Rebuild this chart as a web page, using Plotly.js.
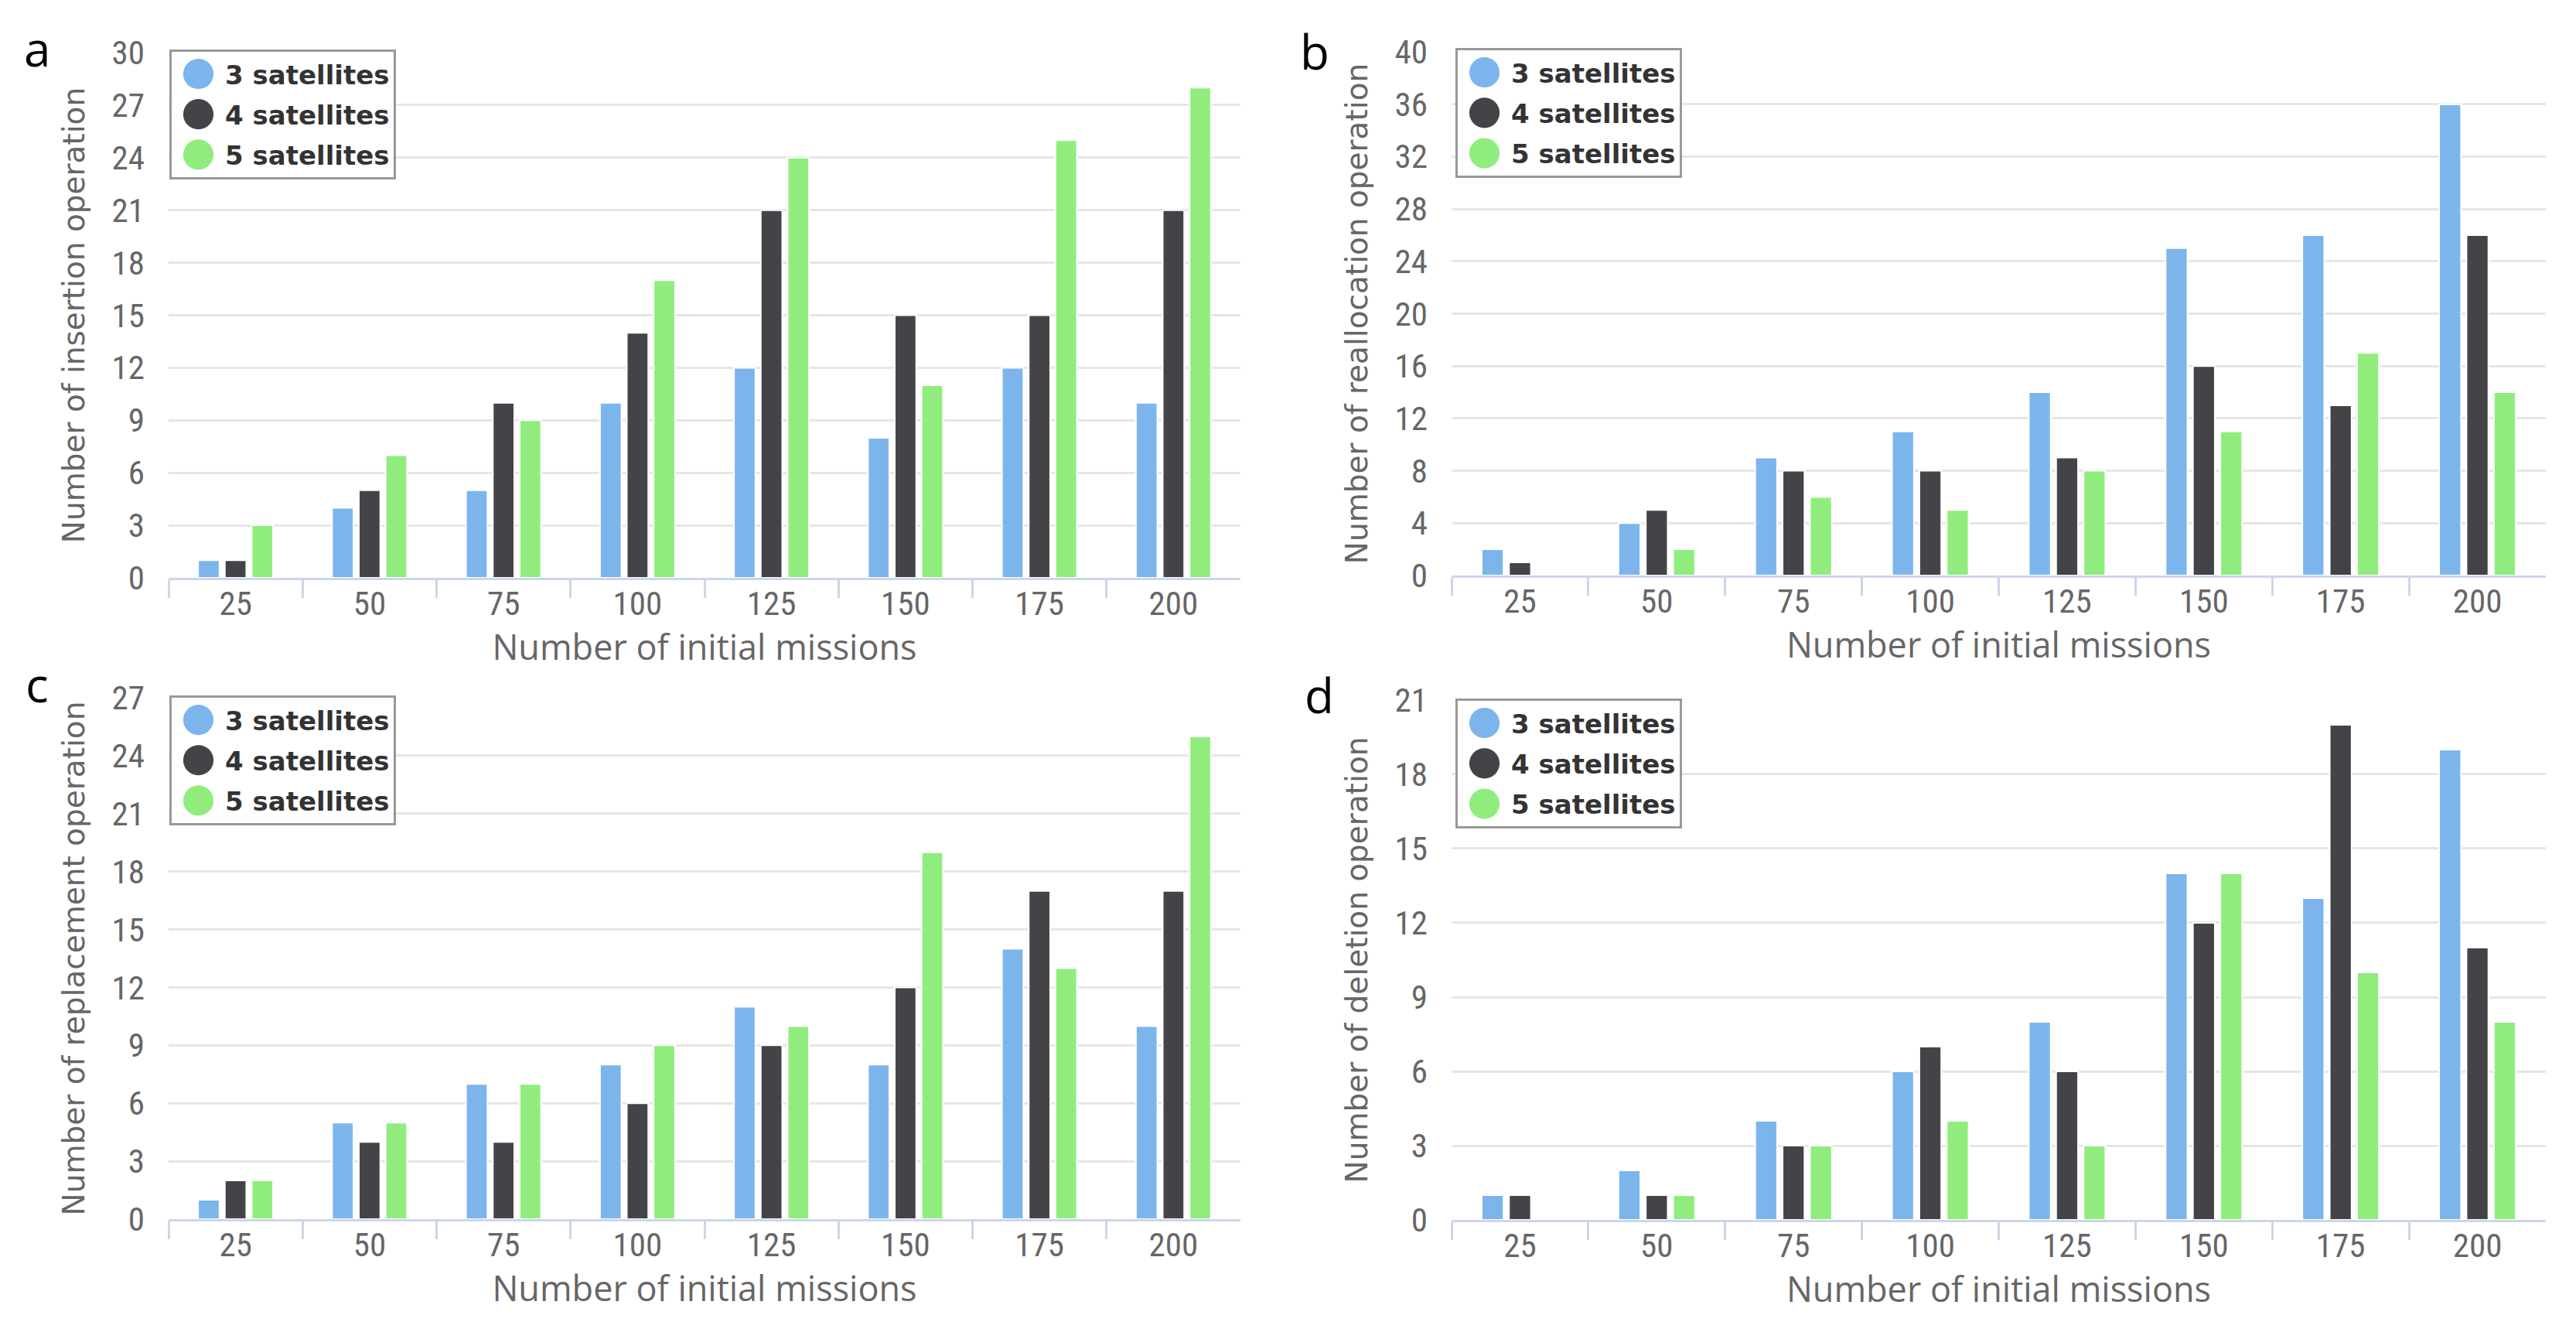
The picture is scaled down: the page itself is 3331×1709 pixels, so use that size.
<!DOCTYPE html>
<html>
<head>
<meta charset="utf-8">
<script src="https://cdn.plot.ly/plotly-3.0.1.min.js"></script>
<style>html,body{margin:0;padding:0;background:#fff;}#chart{width:3331px;height:1709px;}</style>
</head>
<body>
<div id="chart"></div>
<script>
// ---------- data ----------
const missions = ['25', '50', '75', '100', '125', '150', '175', '200'];
const seriesNames = ['3 satellites', '4 satellites', '5 satellites'];
const seriesColors = ['#7cb5ec', '#434348', '#90ed7d'];

// a: insertion
const insertion3 = [1, 4, 5, 10, 12, 8, 12, 10];
const insertion4 = [1, 5, 10, 14, 21, 15, 15, 21];
const insertion5 = [3, 7, 9, 17, 24, 11, 25, 28];
// b: reallocation
const realloc3 = [2, 4, 9, 11, 14, 25, 26, 36];
const realloc4 = [1, 5, 8, 8, 9, 16, 13, 26];
const realloc5 = [0, 2, 6, 5, 8, 11, 17, 14];
// c: replacement
const replace3 = [1, 5, 7, 8, 11, 8, 14, 10];
const replace4 = [2, 4, 4, 6, 9, 12, 17, 17];
const replace5 = [2, 5, 7, 9, 10, 19, 13, 25];
// d: deletion
const delete3 = [1, 2, 4, 6, 8, 14, 13, 19];
const delete4 = [1, 1, 3, 7, 6, 12, 20, 11];
const delete5 = [0, 1, 3, 4, 3, 14, 10, 8];

const panelLetters = ['a', 'b', 'c', 'd'];
const yTitles = ['Number of insertion operation', 'Number of reallocation operation',
                 'Number of replacement operation', 'Number of deletion operation'];
const xTitle = 'Number of initial missions';
const yMax = [30, 40, 27, 21];
const yStep = [3, 4, 3, 3];

const panelData = [
  [insertion3, insertion4, insertion5],
  [realloc3, realloc4, realloc5],
  [replace3, replace4, replace5],
  [delete3, delete4, delete5]
];

// ---------- layout geometry (paper fractions) ----------
const xDomains = [[0.06545, 0.48154], [0.5635, 0.98829], [0.06545, 0.48154], [0.5635, 0.98829]];
const yDomains = [[0.5629, 0.9602], [0.5647, 0.9608], [0.0778, 0.4722], [0.0772, 0.4705]];
const legendPos = [[0.06575, 0.9626], [0.5650, 0.9637], [0.06575, 0.4740], [0.5650, 0.4716]];
const letterPos = [[0.0144, 0.964], [0.5104, 0.9612], [0.0144, 0.483], [0.5122, 0.4745]];

const tickFont = {family: 'Liberation Sans Narrow, Roboto Condensed, Roboto, sans-serif', size: 43, color: '#666666'};

const traces = [];
const layout = {
  width: 3331, height: 1709,
  margin: {l: 0, r: 0, t: 0, b: 0},
  paper_bgcolor: '#ffffff', plot_bgcolor: '#ffffff',
  barmode: 'group', bargap: 0.4, bargroupgap: 0.2,
  showlegend: true,
  annotations: [],
  font: {family: 'Open Sans, sans-serif', color: '#666666'}
};

for (let p = 0; p < 4; p++) {
  const sfx = p === 0 ? '' : String(p + 1);
  const xa = 'x' + sfx, ya = 'y' + sfx;
  const legName = 'legend' + sfx;
  for (let s = 0; s < 3; s++) {
    traces.push({
      type: 'bar', x: missions, y: panelData[p][s], name: seriesNames[s],
      xaxis: xa, yaxis: ya, showlegend: false,
      marker: {color: seriesColors[s], line: {color: '#ffffff', width: 2}},
      hoverinfo: 'x+y+name'
    });
  }
  for (let s = 0; s < 3; s++) {
    traces.push({
      type: 'scatter', mode: 'markers', x: [null], y: [null], name: seriesNames[s],
      xaxis: xa, yaxis: ya, legend: legName, legendgroup: 'g' + p + s, showlegend: true,
      marker: {color: seriesColors[s], size: 16}, hoverinfo: 'skip'
    });
  }
  layout['xaxis' + sfx] = {
    domain: xDomains[p], anchor: ya, type: 'category',
    categoryorder: 'array', categoryarray: missions, range: [-0.5, 7.5],
    tickson: 'boundaries', ticks: 'outside', ticklen: 23, tickwidth: 3, tickcolor: '#ccd6eb',
    showline: true, linecolor: '#ccd6eb', linewidth: 3, showgrid: false, zeroline: false,
    tickfont: tickFont, ticklabelstandoff: -7, fixedrange: true,
    title: {text: xTitle, font: {family: 'Open Sans, sans-serif', size: 45, color: '#666666'}, standoff: 0}
  };
  layout['yaxis' + sfx] = {
    domain: yDomains[p], anchor: xa, range: [0, yMax[p]], dtick: yStep[p], tick0: 0,
    showgrid: true, gridcolor: '#e6e6e6', gridwidth: 3, zeroline: false, showline: false,
    ticks: '', tickfont: tickFont, ticklabelstandoff: 30, fixedrange: true,
    title: {text: yTitles[p], font: {family: 'DejaVu Sans, Verdana, sans-serif', size: 39, color: '#666666'}, standoff: 22}
  };
  layout[legName] = {
    x: legendPos[p][0], y: legendPos[p][1], xanchor: 'left', yanchor: 'top',
    bgcolor: '#ffffff', bordercolor: '#999999', borderwidth: 3,
    font: {family: 'DejaVu Sans, Verdana, sans-serif', size: 34, color: '#333333', weight: 'bold'},
    itemwidth: 59, traceorder: 'grouped', tracegroupgap: 5, itemclick: false, itemdoubleclick: false
  };
  layout.annotations.push({
    xref: 'paper', yref: 'paper', x: letterPos[p][0], y: letterPos[p][1],
    xanchor: 'center', yanchor: 'middle', showarrow: false, text: panelLetters[p],
    font: {family: 'Open Sans, sans-serif', size: 62, color: '#000000'}
  });
}

Plotly.newPlot('chart', traces, layout, {staticPlot: true, displayModeBar: false}).then(function (gd) {
  // enlarge the legend circles (Plotly caps legend marker size at 16px)
  gd.querySelectorAll('.legendpoints path.scatterpts').forEach(function (el) {
    const t = el.getAttribute('transform') || '';
    el.setAttribute('transform', t + ' scale(2.45)');
  });
});
</script>
</body>
</html>
